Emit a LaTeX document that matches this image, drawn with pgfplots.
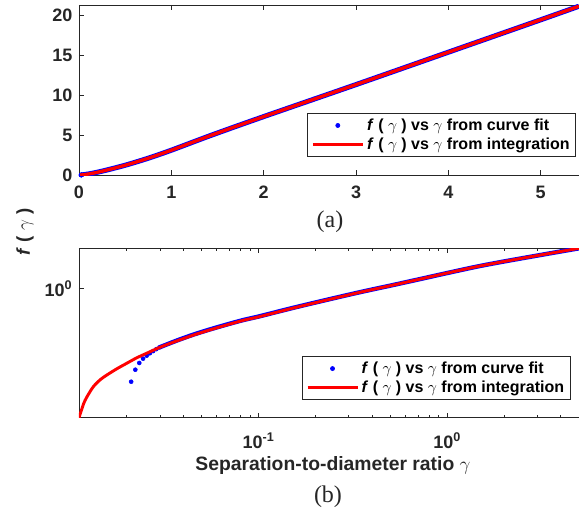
\documentclass[border=0pt]{standalone}
\usepackage{fontspec}
\setmainfont{Liberation Sans}
\newfontfamily\timesfont{Liberation Serif}
\usepackage{pgfplots}
\usepackage{pgfplotstable}
\pgfplotsset{compat=1.18}
\definecolor{axcol}{RGB}{38,38,38}
\definecolor{mred}{RGB}{255,0,0}
\definecolor{mblue}{RGB}{0,0,255}

\pgfplotstableread{
g f
0.01116 6.8e-5
0.0118 1.9e-4
0.0123 3.2e-4
0.0133 6.8e-4
0.0145 1.15e-3
0.0157 1.62e-3
0.0178 2.6e-3
0.0200 3.85e-3
0.0225 5.7e-3
0.0255 8.1e-3
0.0300 0.0126
0.0365 0.0198
0.0451 0.031
0.0550 0.0455
0.0678 0.066
0.083 0.093
0.101 0.122
0.15 0.225
0.23 0.42
0.35 0.76
0.52 1.28
0.75 2.1
1.0 3.1
1.44 5.0
2.0 7.3
3.0 11.3
4.0 15.35
5.0 19.4
5.415 21.1
}\redtab

\pgfplotstableread{
g f
0.0298 0.0125
0.0365 0.0203
0.0451 0.0322
0.0550 0.047
0.0678 0.068
0.083 0.095
0.101 0.125
0.15 0.229
0.23 0.425
0.35 0.765
0.52 1.285
0.75 2.1
1.0 3.1
1.44 5.0
2.0 7.3
3.0 11.3
4.0 15.35
5.0 19.4
5.415 21.1
}\bluelinetab

\pgfplotstableread{
g f
0.0211 9.8e-4
0.0222 2.39e-3
0.0233 3.94e-3
0.0244 5.41e-3
0.0255 6.76e-3
0.0265 8.08e-3
0.0276 9.5e-3
0.0287 0.0110
0.0298 0.0125
}\bluedottab

\pgfplotsset{
  mystyle/.style={
    scale only axis,
    width=375pt,
    axis y line*=left,
    axis line style={axcol, line width=0.6pt},
    tick style={axcol, line width=0.6pt},
    tick align=inside,
    major tick length=3.75pt,
    minor tick length=2.25pt,
    ticklabel style={font=\bfseries\fontsize{13.5}{13.5}\selectfont, text=axcol},
    yticklabel style={xshift=-1.5pt},
    /pgf/number format/assume math mode=true,
    clip mode=individual,
    legend cell align=left,
    legend style={draw=axcol, line width=0.6pt, fill=white,
      font=\bfseries\fontsize{12}{13}\selectfont, text=black,
      inner xsep=2.5pt, inner ysep=2pt, row sep=0pt,
      nodes={inner sep=2pt}},
  },
  dotleg/.style={legend image code/.code={
      \draw[mark repeat=2,mark phase=2,##1] plot coordinates {(0pt,0pt) (18.75pt,0pt) (37.5pt,0pt)};}},
  lineleg/.style={legend image code/.code={
      \draw[##1] (0pt,0pt) -- (37.5pt,0pt);}},
}

\begin{document}
\begin{tikzpicture}[x=1pt,y=1pt]
\path[use as bounding box] (0,0) rectangle (434.25,384);

% top panel (a)
\begin{axis}[mystyle,
  at={(59.25pt,252.75pt)}, anchor=south west,
  height=127.5pt,
  xmin=0, xmax=5.415, ymin=0, ymax=21.25,
  xtick={0,1,2,3,4,5}, ytick={0,5,10,15,20},
  xticklabel style={yshift=-5pt},
  xlabel={\timesfont\fontsize{18}{18}\selectfont (a)},
  xlabel style={at={(rel axis cs:0.502,-0.276)}, anchor=center, text=axcol},
  ylabel={\bfseries\fontsize{14}{14}\selectfont\textit{f} ( $\gamma$ )},
  ylabel style={at={(rel axis cs:-0.108,-0.335)}, anchor=center, rotate=0, text=axcol},
  legend style={at={(rel axis cs:0.994,0.365)}, anchor=north east},
]
\addplot[mblue, line width=3.8pt, smooth, forget plot] table[x=g,y=f] {\bluelinetab};
\addplot[mblue, only marks, mark=*, mark size=1.5pt, dotleg] table[x=g,y=f] {\bluedottab};
\addlegendentry{\textit{f} ( $\gamma$ ) vs $\gamma$ from curve fit}
\addplot[mred, line width=2.5pt, smooth, lineleg] table[x=g,y=f] {\redtab};
\addlegendentry{\textit{f} ( $\gamma$ ) vs $\gamma$ from integration}
\end{axis}

% bottom panel (b)
\begin{axis}[mystyle,
  at={(59.25pt,70.725pt)}, anchor=south west,
  height=127.05pt,
  xmode=log, ymode=log,
  xmin=0.01116, xmax=5.0, ymin=6.8e-5, ymax=19.4,
  xtick={0.1,1}, xticklabels={10\textsuperscript{-1},10\textsuperscript{0}},
  xticklabel style={yshift=-8pt},
  minor xtick={0.02,0.03,0.04,0.05,0.06,0.07,0.08,0.09,0.2,0.3,0.4,0.5,0.6,0.7,0.8,0.9,2,3,4,5},
  ytick={1}, yticklabels={10\textsuperscript{0}},
  yminorticks=false,
  xlabel={\bfseries\fontsize{14.5}{14.5}\selectfont Separation-to-diameter ratio $\gamma$},
  xlabel style={at={(rel axis cs:0.508,-0.285)}, anchor=center, text=axcol},
  legend style={at={(rel axis cs:0.983,0.364)}, anchor=north east},
]
\addplot[mblue, line width=3.3pt, smooth, forget plot] table[x=g,y=f] {\bluelinetab};
\addplot[mblue, only marks, mark=*, mark size=1.5pt, dotleg] table[x=g,y=f] {\bluedottab};
\addlegendentry{\textit{f} ( $\gamma$ ) vs $\gamma$ from curve fit}
\addplot[mred, line width=2.2pt, smooth, lineleg] table[x=g,y=f] {\redtab};
\addlegendentry{\textit{f} ( $\gamma$ ) vs $\gamma$ from integration}
\node[text=axcol, font=\timesfont\fontsize{18}{18}\selectfont] at (rel axis cs:0.498,-0.468) {(b)};
\end{axis}
\end{tikzpicture}
\end{document}
